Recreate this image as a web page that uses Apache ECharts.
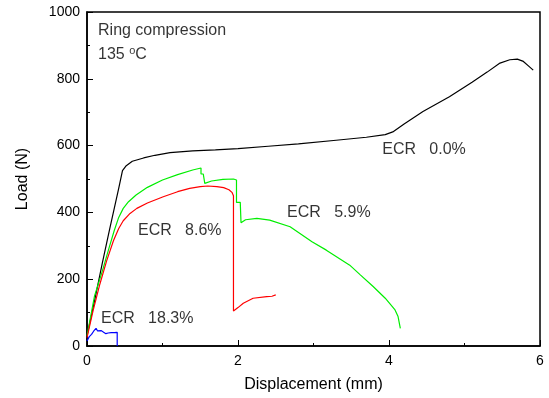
<!DOCTYPE html>
<html>
<head>
<meta charset="utf-8">
<script src="https://cdn.jsdelivr.net/npm/echarts@6/dist/echarts.min.js"></script>
<style>
  html, body { margin: 0; padding: 0; background: #fff; }
  #chart { width: 549px; height: 398px; }
</style>
</head>
<body>
<div id="chart"></div>
<script>
// ring compression curves, [displacement mm, load N]
var ecr00 = [[0, 30], [0.1, 135], [0.2, 245], [0.3, 350], [0.42, 472], [0.47, 525], [0.52, 540],
  [0.6, 553], [0.75, 563], [0.9, 571], [1.1, 579], [1.4, 584], [1.7, 587], [2.0, 591], [2.4, 598],
  [2.8, 605], [3.3, 616], [3.7, 625], [3.95, 633], [4.05, 641], [4.2, 665], [4.45, 702], [4.8, 746],
  [5.1, 790], [5.3, 820], [5.47, 847], [5.6, 857], [5.7, 859], [5.78, 852], [5.85, 838], [5.91, 826]];

var ecr59 = [[0, 30], [0.05, 90], [0.1, 150], [0.2, 222], [0.3, 300], [0.36, 345], [0.42, 385],
  [0.48, 412], [0.55, 432], [0.65, 452], [0.8, 475], [1.0, 497], [1.2, 513], [1.4, 527], [1.51, 533],
  [1.51, 515], [1.54, 515], [1.56, 487], [1.65, 494], [1.8, 499], [1.94, 500], [1.98, 497],
  [1.98, 430], [2.03, 430], [2.04, 369], [2.1, 378], [2.25, 382], [2.42, 377], [2.69, 357],
  [2.98, 312], [3.17, 287], [3.48, 242], [3.62, 213], [3.79, 178], [3.95, 143], [4.08, 108],
  [4.12, 88], [4.15, 53]];

var ecr86 = [[0, 25], [0.08, 105], [0.17, 185], [0.26, 255], [0.35, 315], [0.42, 352], [0.48, 375],
  [0.57, 397], [0.66, 412], [0.8, 428], [1.01, 447], [1.2, 462], [1.36, 472], [1.5, 477], [1.6, 479],
  [1.72, 477], [1.81, 474], [1.88, 468], [1.92, 460], [1.94, 450], [1.94, 105], [2.0, 115],
  [2.07, 128], [2.2, 143], [2.38, 148], [2.45, 149], [2.5, 153]];

var ecr183 = [[0, 15], [0.03, 28], [0.06, 35], [0.09, 45], [0.12, 53], [0.14, 45], [0.16, 47],
  [0.19, 46], [0.22, 41], [0.25, 37], [0.28, 39], [0.32, 40], [0.36, 40], [0.40, 41], [0.40, 0]];

// text notes, anchored at their left edge in data units
var notes = [
  { text: 'Ring compression', at: [0.146, 943] },
  { text: '135 {sup|o}C', at: [0.146, 871] },
  { text: 'ECR   0.0%', at: [3.91, 587] },
  { text: 'ECR   8.6%', at: [0.675, 347] },
  { text: 'ECR   5.9%', at: [2.65, 398] },
  { text: 'ECR   18.3%', at: [0.185, 81] }
];

var xTicks = [0, 2, 4, 6];
var yTicks = [0, 200, 400, 600, 800, 1000];

var font = 'Liberation Sans, Arial, sans-serif';

function curve(name, data, color) {
  return {
    name: name,
    type: 'line',
    data: data,
    showSymbol: false,
    symbol: 'none',
    lineStyle: { color: color, width: 1.2 },
    silent: true
  };
}

var chart = echarts.init(document.getElementById('chart'));

var option = {
  backgroundColor: '#fff',
  animation: false,
  grid: { left: 87, right: 9, top: 12, bottom: 52, show: true, borderColor: '#000', borderWidth: 1.5 },
  xAxis: {
    type: 'value',
    min: 0, max: 6, interval: 2,
    name: 'Displacement (mm)',
    nameLocation: 'middle',
    nameGap: 31,
    nameTextStyle: { fontFamily: font, fontSize: 16, color: '#000' },
    axisLine: { lineStyle: { color: '#000', width: 1.5 } },
    axisTick: { inside: true, length: 6, lineStyle: { color: '#000' } },
    minorTick: { show: true, splitNumber: 2, length: 3, lineStyle: { color: '#000' } },
    axisLabel: { fontFamily: font, fontSize: 14, color: '#000', margin: 8,
      formatter: function (v) { return xTicks.indexOf(v) >= 0 ? String(v) : ''; } },
    splitLine: { show: false }
  },
  yAxis: {
    type: 'value',
    min: 0, max: 1000, interval: 200,
    name: 'Load (N)',
    nameLocation: 'middle',
    nameRotate: 90,
    nameGap: 56,
    nameTextStyle: { fontFamily: font, fontSize: 16, color: '#000' },
    axisLine: { lineStyle: { color: '#000', width: 1.5 } },
    axisTick: { inside: true, length: 6, lineStyle: { color: '#000' } },
    minorTick: { show: true, splitNumber: 2, length: 3, lineStyle: { color: '#000' } },
    axisLabel: { fontFamily: font, fontSize: 14, color: '#000', margin: 7,
      formatter: function (v) { return yTicks.indexOf(v) >= 0 ? String(v) : ''; } },
    splitLine: { show: false }
  },
  series: [
    curve('ECR 0.0%', ecr00, '#000000'),
    curve('ECR 5.9%', ecr59, '#00ee00'),
    curve('ECR 8.6%', ecr86, '#ff0000'),
    curve('ECR 18.3%', ecr183, '#0000ff'),
    {
      type: 'scatter',
      symbolSize: 0,
      silent: true,
      data: notes.map(function (n) { return { value: n.at, note: n.text }; }),
      label: {
        show: true,
        position: 'right',
        distance: 0,
        fontFamily: font,
        fontSize: 16,
        color: '#000',
        formatter: function (p) { return p.data.note; },
        rich: {
          sup: { fontFamily: font, fontSize: 11, color: '#000', verticalAlign: 'top', padding: [0, 0, 9, 0] }
        }
      }
    }
  ]
};

chart.setOption(option);
</script>
</body>
</html>
